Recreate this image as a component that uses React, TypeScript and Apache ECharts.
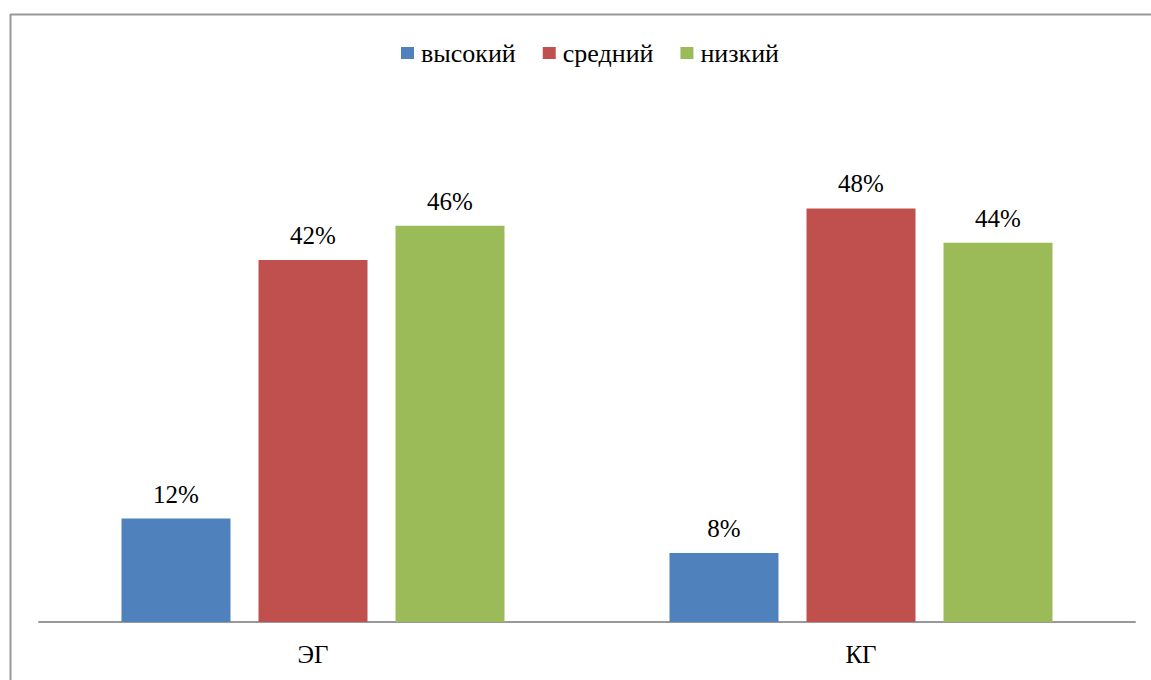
import React, { useEffect, useRef } from "react";
import * as echarts from "echarts";

const categories = ["ЭГ", "КГ"];
const seriesNames = ["высокий", "средний", "низкий"];
const highValues = [12, 8];
const midValues = [42, 48];
const lowValues = [46, 44];
const colors = ["#4F81BD", "#C0504D", "#9BBB59"];

export default function App() {
  const ref = useRef<HTMLDivElement>(null);
  useEffect(() => {
    if (!ref.current) return;
    const chart = echarts.init(ref.current, null, { renderer: "svg" });
    const font = "Liberation Serif";
    const data = [highValues, midValues, lowValues];
    chart.setOption({
      animation: false,
      backgroundColor: "#ffffff",
      textStyle: { fontFamily: font },
      legend: {
        top: 35,
        left: 396,
        itemWidth: 13,
        itemHeight: 12,
        itemGap: 27,
        icon: "rect",
        data: seriesNames,
        textStyle: { fontFamily: font, fontSize: 26, color: "#000", padding: [0, 0, 0, 2] },
      },
      grid: { left: 39, right: 16, top: 105, bottom: 58 },
      xAxis: {
        type: "category",
        data: categories,
        axisLine: { show: true, lineStyle: { color: "#999999", width: 2 } },
        axisTick: { show: false },
        axisLabel: { fontFamily: font, fontSize: 25, color: "#000", margin: 20 },
      },
      yAxis: {
        type: "value",
        min: 0,
        max: 60,
        show: false,
        splitLine: { show: false },
      },
      series: seriesNames.map((name, i) => ({
        name,
        type: "bar",
        data: data[i],
        barWidth: 109,
        barGap: "25.7%",
        itemStyle: { color: colors[i] },
        label: {
          show: true,
          position: "top",
          distance: 12,
          formatter: "{c}%",
          fontFamily: font,
          fontSize: 25,
          color: "#000",
        },
      })),
      graphic: [
        { type: "line", shape: { x1: 10, y1: 14.5, x2: 1151, y2: 14.5 }, style: { stroke: "#999999", lineWidth: 2 } },
        { type: "line", shape: { x1: 10.5, y1: 14, x2: 10.5, y2: 680 }, style: { stroke: "#999999", lineWidth: 2 } },
      ],
    });
    return () => chart.dispose();
  }, []);
  return <div ref={ref} style={{ width: 1151, height: 680, position: "absolute", left: 0, top: 0 }} />;
}
